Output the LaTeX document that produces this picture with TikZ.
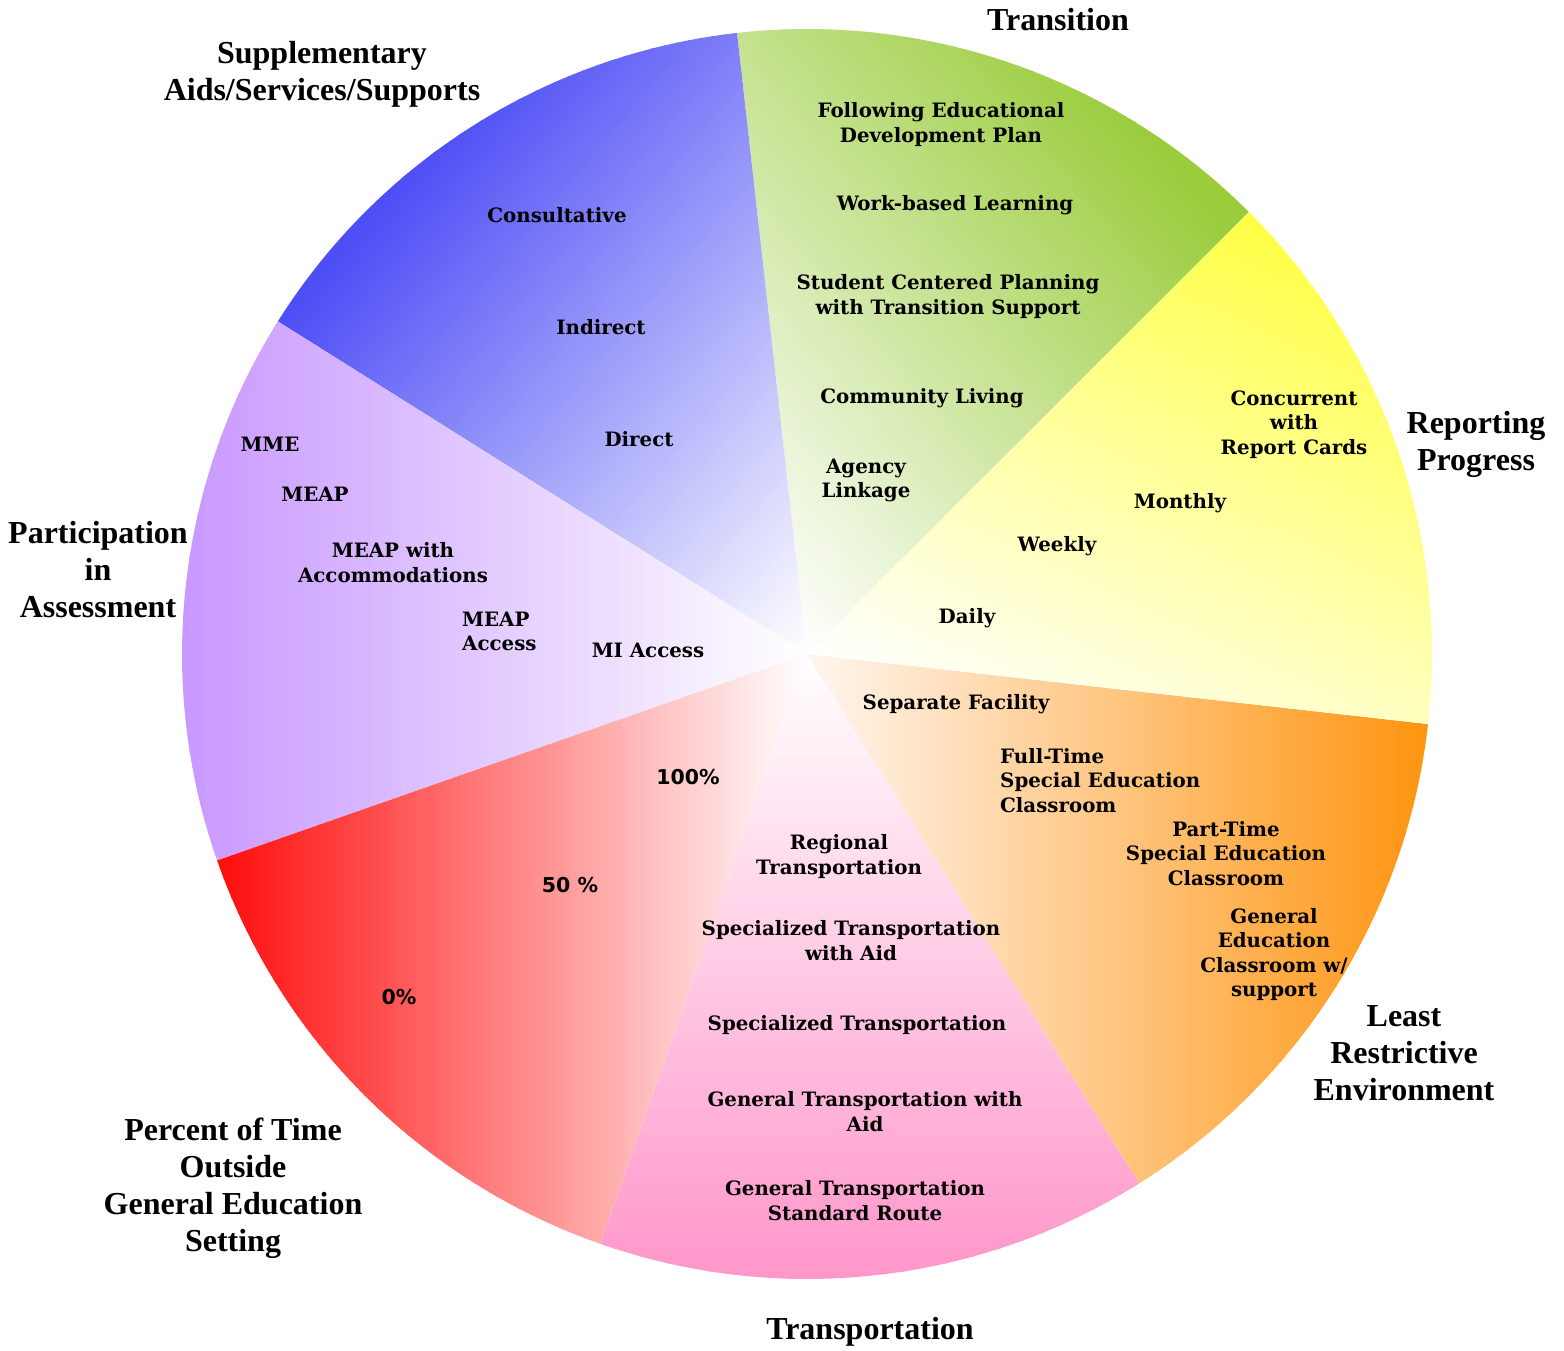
\documentclass[tikz,border=0pt]{standalone}
\usepackage{fontspec}
\setmainfont{Liberation Serif}
\newfontfamily\labfont{DejaVu Serif}
\newfontfamily\pctfont{DejaVu Sans}
\definecolor{cblue}{RGB}{78,78,246}
\definecolor{cgreen}{RGB}{154,204,60}
\definecolor{cyellow}{RGB}{255,255,60}
\definecolor{corange}{RGB}{255,148,16}
\definecolor{cpink}{RGB}{255,150,202}
\definecolor{cred}{RGB}{255,12,12}
\definecolor{cpurple}{RGB}{200,152,255}
\definecolor{cpeach}{RGB}{255,246,240}
\tikzset{
  title/.style={font=\bfseries\fontsize{32}{37}\selectfont, align=center, inner sep=0pt},
  lab/.style={font=\labfont\bfseries\fontsize{19.8}{24.5}\selectfont, align=center, inner sep=0pt, yshift=-2.5pt},
  labl/.style={lab, align=left},
  pct/.style={font=\pctfont\bfseries\fontsize{20.5}{24}\selectfont, inner sep=0pt},
}
% #1 start angle, #2 end angle, #3 colour, #4 gradient direction, #5 full-colour distance, #6 light colour
\newcommand{\gradwedge}[6]{%
  \begin{scope}[shift={(C)}, x=1pt, y=1pt]
    \clip (0,0) -- (#1:625) arc[start angle=#1, end angle=#2, radius=625] -- cycle;
    \fill[#6] (-700,-700) rectangle (700,700);
    \begin{scope}[rotate=#4]
      \foreach \gi in {0,...,79} {
        \pgfmathsetmacro{\gpa}{#5/80*\gi}
        \pgfmathsetmacro{\gpb}{#5/80*(\gi+1)+1}
        \pgfmathsetmacro{\gpt}{(\gi+0.5)*1.25}
        \fill[#3!\gpt!#6] (\gpa,-700) rectangle (\gpb,700);
      }
      \fill[#3] (#5,-700) rectangle (700,700);
    \end{scope}
  \end{scope}}
\begin{document}
\begin{tikzpicture}[x=1pt, y=-1pt]
\useasboundingbox (0,0) rectangle (1564,1351);
\coordinate (C) at (807,654);
% wedges
\gradwedge{45}{96.43}{cgreen}{40}{600}{white}
\gradwedge{96.43}{147.86}{cblue}{140}{615}{white}
\gradwedge{147.86}{199.29}{cpurple}{180}{625}{white}
\gradwedge{199.29}{250.71}{cred}{180}{590}{white}
\gradwedge{250.71}{302.14}{cpink}{270}{625}{white}
\gradwedge{302.14}{353.57}{corange}{0}{621}{cpeach}
\gradwedge{-6.43}{45}{cyellow}{65}{615}{white}
% titles
\node[title] (tTrans) at (1058,20) {Transition};
\node[title] (tSupp) at (322,74) {Supplementary\\Aids/Services/Supports};
\node[title] (tRep) at (1476,444) {Reporting\\Progress};
\node[title] (tPart) at (98,570) {Participation\\in\\Assessment};
\node[title] (tPct) at (233,1188) {Percent of Time\\Outside\\General Education\\Setting};
\node[title] (tTransp) at (870,1332) {Transportation};
\node[title] (tLRE) at (1404,1053) {Least\\Restrictive\\Environment};
% transition
\node[lab] (tr1) at (941,122) {Following Educational\\Development Plan};
\node[lab] (tr2) at (955,203) {Work-based Learning};
\node[lab] (tr3) at (948,294) {Student Centered Planning\\with Transition Support};
\node[lab] (tr4) at (922,396) {Community Living};
\node[lab] (tr5) at (866,478) {Agency\\Linkage};
% supplementary
\node[lab] (su1) at (557,213) {Consultative};
\node[lab] (su2) at (601,325) {Indirect};
\node[lab] (su3) at (639,437) {Direct};
% participation
\node[lab] (pa1) at (270,442) {MME};
\node[lab] (pa2) at (315,492) {MEAP};
\node[lab] (pa3) at (393,560) {MEAP with\\Accommodations};
\node[labl, anchor=west] (pa4) at (462,629) {MEAP\\Access};
\node[lab] (pa5) at (648,648) {MI Access};
% reporting
\node[lab] (re1) at (1294,422) {Concurrent\\with\\Report Cards};
\node[lab] (re2) at (1180,501) {Monthly};
\node[lab] (re3) at (1057,544) {Weekly};
\node[lab] (re4) at (967,616) {Daily};
% LRE
\node[lab] (lr1) at (956,702) {Separate Facility};
\node[labl, anchor=west] (lr2) at (1000,778) {Full-Time\\Special Education\\Classroom};
\node[lab] (lr3) at (1226,851) {Part-Time\\Special Education\\Classroom};
\node[lab] (lr4) at (1274,952) {General\\Education\\Classroom w/\\support};
% transportation
\node[lab] (tp1) at (839,854) {Regional\\Transportation};
\node[lab] (tp2) at (851,938) {Specialized Transportation\\with Aid};
\node[lab] (tp3) at (857,1023) {Specialized Transportation};
\node[lab] (tp4) at (865,1109) {General Transportation with\\Aid};
\node[lab] (tp5) at (855,1198) {General Transportation\\Standard Route};
% percent
\node[pct] (pc1) at (688,777) {100\%};
\node[pct] (pc2) at (570,885) {50 \%};
\node[pct] (pc3) at (399,997) {0\%};
\end{tikzpicture}
\end{document}
